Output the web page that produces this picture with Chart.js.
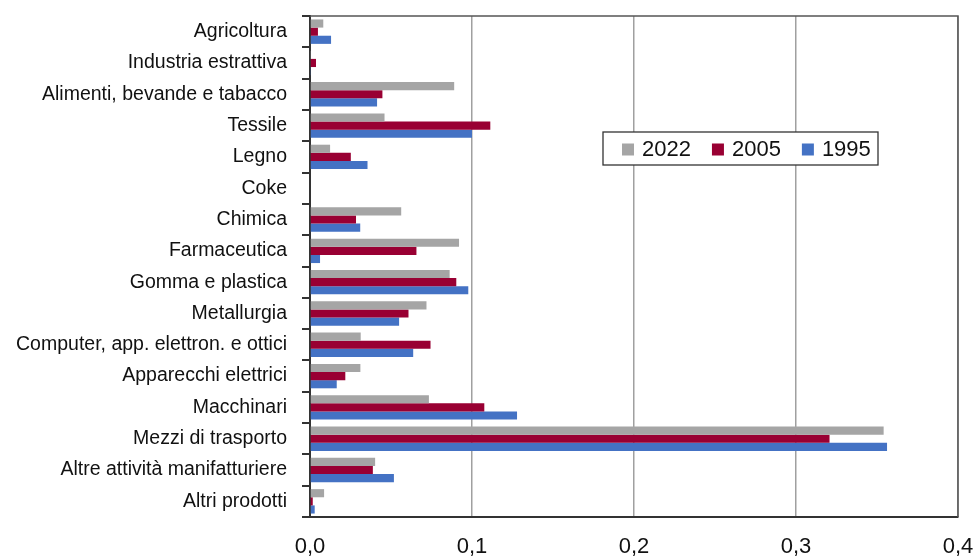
<!DOCTYPE html>
<html>
<head>
<meta charset="utf-8">
<script src="https://cdn.jsdelivr.net/npm/chart.js@4.4.1/dist/chart.umd.min.js"></script>
<style>
  html, body { margin: 0; padding: 0; background: #fff; }
  #wrap { width: 974px; height: 557px; position: relative; }
</style>
</head>
<body>
<div id="wrap"><canvas id="chart"></canvas></div>
<script>
// Categories (top to bottom)
const categories = [
  'Agricoltura',
  'Industria estrattiva',
  'Alimenti, bevande e tabacco',
  'Tessile',
  'Legno',
  'Coke',
  'Chimica',
  'Farmaceutica',
  'Gomma e plastica',
  'Metallurgia',
  'Computer, app. elettron. e ottici',
  'Apparecchi elettrici',
  'Macchinari',
  'Mezzi di trasporto',
  'Altre attività manifatturiere',
  'Altri prodotti'
]

// Series values
const values2022 = [0.0082, 0.0003, 0.089, 0.046, 0.0124, 0, 0.0563, 0.092, 0.0862, 0.0719, 0.0313, 0.0311, 0.0734, 0.3541, 0.0402, 0.0087]
const values2005 = [0.0049, 0.0037, 0.0447, 0.1113, 0.0252, 0, 0.0284, 0.0657, 0.0903, 0.0608, 0.0744, 0.0218, 0.1076, 0.3207, 0.0388, 0.0017]
const values1995 = [0.013, 0.0006, 0.0414, 0.100, 0.0355, 0, 0.031, 0.0062, 0.0977, 0.055, 0.0637, 0.0165, 0.1278, 0.3562, 0.0518, 0.0029]

const seriesLabels = ['2022', '2005', '1995']
const seriesColors = ['#A5A5A5', '#990033', '#4472C4']

// X axis ticks
const xTicks = [0, 0.1, 0.2, 0.3, 0.4]

const FONT = "'Liberation Sans', Arial, Helvetica, sans-serif"

// Drop the automatic label overhang padding so the plot area sits where the original is
function noPadding(scale) {
  scale.paddingTop = 0
  scale.paddingBottom = 0
  scale.paddingLeft = 0
  scale.paddingRight = 0
}

// Frame on top and right of the plot area
const framePlugin = {
  id: 'frame',
  afterDraw(chart) {
    const { ctx, chartArea: a } = chart
    ctx.save()
    ctx.strokeStyle = '#555'
    ctx.lineWidth = 1.5
    ctx.beginPath()
    ctx.moveTo(a.left, a.top)
    ctx.lineTo(a.right, a.top)
    ctx.lineTo(a.right, a.bottom)
    ctx.stroke()
    ctx.restore()
  }
}

// Boxed legend inside the plot, like the original
const boxLegend = {
  id: 'boxLegend',
  afterDraw(chart) {
    const { ctx } = chart
    const x0 = 603, y0 = 132, w = 275, h = 33
    ctx.save()
    ctx.fillStyle = '#fff'
    ctx.fillRect(x0, y0, w, h)
    ctx.strokeStyle = '#333'
    ctx.lineWidth = 1.3
    ctx.strokeRect(x0, y0, w, h)
    ctx.font = '22px ' + FONT
    ctx.textBaseline = 'middle'
    let x = x0 + 19
    const cy = y0 + h / 2 + 1
    chart.data.datasets.forEach(ds => {
      ctx.fillStyle = ds.backgroundColor
      ctx.fillRect(x, cy - 6, 12, 12)
      ctx.fillStyle = '#111'
      ctx.fillText(ds.label, x + 20, cy)
      x += 20 + ctx.measureText(ds.label).width + 21
    })
    ctx.restore()
  }
}

const datasets = [values2022, values2005, values1995].map((data, i) => ({
  label: seriesLabels[i],
  data: data,
  backgroundColor: seriesColors[i],
  borderWidth: 0,
  categoryPercentage: 0.78,
  barPercentage: 1.0
}))

new Chart(document.getElementById('chart'), {
  type: 'bar',
  data: { labels: categories, datasets: datasets },
  options: {
    indexAxis: 'y',
    responsive: true,
    maintainAspectRatio: false,
    animation: false,
    layout: { padding: { top: 16, right: 16, left: 0, bottom: 0 } },
    plugins: {
      legend: { display: false },
      tooltip: { enabled: false }
    },
    scales: {
      x: {
        min: 0,
        max: 0.4,
        afterFit(scale) {
          scale.height = 40
          noPadding(scale)
        },
        afterBuildTicks(scale) { scale.ticks = xTicks.map(v => ({ value: v })) },
        grid: {
          color: '#A0A0A0',
          lineWidth: 1.5,
          drawTicks: false
        },
        border: { display: true, color: '#333', width: 2 },
        ticks: {
          padding: 17,
          color: '#111',
          font: { family: FONT, size: 22 },
          callback: v => v.toFixed(1).replace('.', ',')
        }
      },
      y: {
        afterFit(scale) {
          scale.width = 310
          noPadding(scale)
        },
        grid: {
          offset: true,
          drawOnChartArea: false,
          drawTicks: true,
          tickLength: 8,
          color: '#333',
          lineWidth: 2
        },
        border: { display: true, color: '#333', width: 2 },
        ticks: {
          padding: 15,
          color: '#111',
          font: { family: FONT, size: 19.5 }
        }
      }
    }
  },
  plugins: [framePlugin, boxLegend]
})
</script>
</body>
</html>
